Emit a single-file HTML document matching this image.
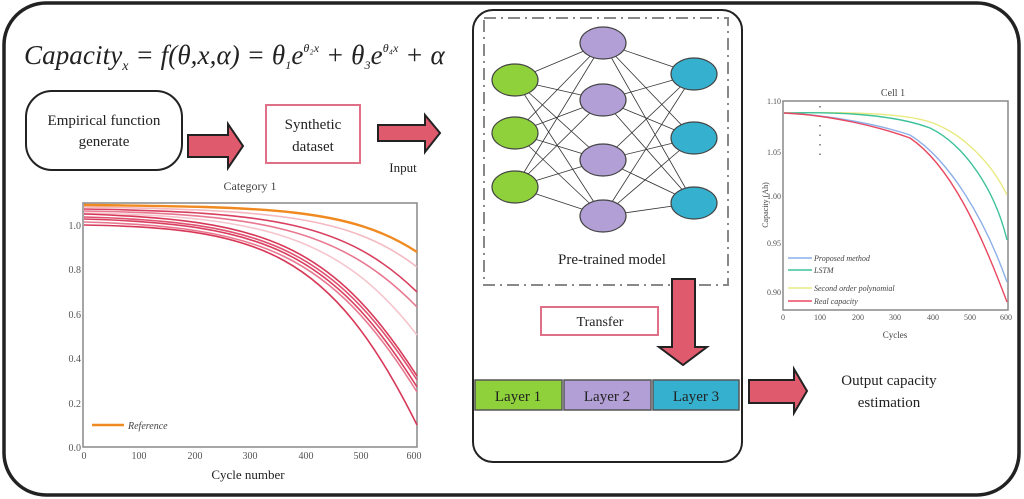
<!DOCTYPE html>
<html><head><meta charset="utf-8"><style>
html,body{margin:0;padding:0;background:#fff;}
svg{display:block;font-family:"Liberation Serif",serif;}
</style></head><body>
<svg width="1024" height="499" viewBox="0 0 1024 499" xmlns="http://www.w3.org/2000/svg">
<rect x="4" y="3" width="1015" height="492" rx="42" fill="#fff" stroke="#222" stroke-width="3.5"/>
<!-- formula -->
<text x="24" y="64" font-size="27" font-style="italic" fill="#222" letter-spacing="0.1">Capacity<tspan font-size="14" dy="6">x</tspan><tspan dy="-6"> = f(θ,x,α) = θ</tspan><tspan font-size="12" dy="5">1</tspan><tspan dy="-5">e</tspan><tspan font-size="12" dy="-12">θ₂x</tspan><tspan dy="12"> + θ</tspan><tspan font-size="12" dy="5">3</tspan><tspan dy="-5">e</tspan><tspan font-size="12" dy="-12">θ₄x</tspan><tspan dy="12"> + α</tspan></text>
<!-- empirical box -->
<rect x="26" y="91" width="156" height="79" rx="26" fill="#fff" stroke="#222" stroke-width="2"/>
<text x="104" y="125" font-size="15" text-anchor="middle" fill="#222">Empirical function</text>
<text x="104" y="146" font-size="15" text-anchor="middle" fill="#222">generate</text>
<!-- arrows -->
<path d="M188,135 H228 V124 L243,146 L228,168 V157 H188 Z" fill="#e05a6e" stroke="#222" stroke-width="2"/>
<rect x="266" y="105" width="94" height="58" fill="#fff" stroke="#e07088" stroke-width="2"/>
<text x="313" y="129" font-size="15" text-anchor="middle" fill="#222">Synthetic</text>
<text x="313" y="151" font-size="15" text-anchor="middle" fill="#222">dataset</text>
<path d="M378,125 H425 V115 L440,133 L425,152 V141 H378 Z" fill="#e05a6e" stroke="#222" stroke-width="2"/>
<text x="403" y="172" font-size="13" text-anchor="middle" fill="#222">Input</text>
<!-- left chart -->
<text x="250" y="190" font-size="12" text-anchor="middle" fill="#444">Category 1</text>
<rect x="83" y="203" width="334" height="244" fill="#fff" stroke="#888" stroke-width="1.5"/>
<g font-size="10" fill="#555" text-anchor="end">
<text x="81" y="229">1.0</text><text x="81" y="273">0.8</text><text x="81" y="318">0.6</text><text x="81" y="362">0.4</text><text x="81" y="407">0.2</text><text x="81" y="451">0.0</text>
</g>
<g font-size="10" fill="#555" text-anchor="middle">
<text x="84" y="459">0</text><text x="139" y="459">100</text><text x="195" y="459">200</text><text x="250" y="459">300</text><text x="306" y="459">400</text><text x="361" y="459">500</text><text x="414" y="459">600</text>
</g>
<text x="248" y="479" font-size="13" text-anchor="middle" fill="#222">Cycle number</text>
<g fill="none" stroke-width="1.6">
<path d="M84,207 C270,210 350,215 417,267" stroke="#f4b8c0"/>
<path d="M84,209 C270,212 345,222 417,292" stroke="#d94060"/>
<path d="M84,211 C260,214 340,228 417,307" stroke="#e87890"/>
<path d="M84,213 C260,216 340,235 417,335" stroke="#f6c4cc"/>
<path d="M84,214 C260,220 330,240 417,376" stroke="#d83858"/>
<path d="M84,217 C260,222 330,245 417,380" stroke="#e05070"/>
<path d="M84,219 C260,224 330,248 417,387" stroke="#d94060"/>
<path d="M84,222 C260,227 330,252 417,392" stroke="#e87890"/>
<path d="M84,225 C260,228 330,250 417,425" stroke="#d83858"/>
<path d="M84,205 C270,207 350,208 417,252" stroke="#f08a20" stroke-width="2.4"/>
</g>
<line x1="92" y1="425" x2="124" y2="425" stroke="#f08a20" stroke-width="2.4"/>
<text x="128" y="429" font-size="10" font-style="italic" fill="#444">Reference</text>
<!-- middle box -->
<rect x="473" y="10" width="269" height="452" rx="20" fill="#fff" stroke="#222" stroke-width="2"/>
<rect x="484" y="18" width="244" height="267" fill="none" stroke="#888" stroke-width="2" stroke-dasharray="12,5,2,5"/>
<g stroke="#333" stroke-width="0.8">
<line x1="515" y1="80" x2="603" y2="43"/><line x1="515" y1="80" x2="603" y2="100"/><line x1="515" y1="80" x2="603" y2="160"/><line x1="515" y1="80" x2="603" y2="216"/>
<line x1="515" y1="133" x2="603" y2="43"/><line x1="515" y1="133" x2="603" y2="100"/><line x1="515" y1="133" x2="603" y2="160"/><line x1="515" y1="133" x2="603" y2="216"/>
<line x1="515" y1="187" x2="603" y2="43"/><line x1="515" y1="187" x2="603" y2="100"/><line x1="515" y1="187" x2="603" y2="160"/><line x1="515" y1="187" x2="603" y2="216"/>
<line x1="603" y1="43" x2="694" y2="74"/><line x1="603" y1="43" x2="694" y2="138"/><line x1="603" y1="43" x2="694" y2="203"/>
<line x1="603" y1="100" x2="694" y2="74"/><line x1="603" y1="100" x2="694" y2="138"/><line x1="603" y1="100" x2="694" y2="203"/>
<line x1="603" y1="160" x2="694" y2="74"/><line x1="603" y1="160" x2="694" y2="138"/><line x1="603" y1="160" x2="694" y2="203"/>
<line x1="603" y1="216" x2="694" y2="74"/><line x1="603" y1="216" x2="694" y2="138"/><line x1="603" y1="216" x2="694" y2="203"/>
</g>
<g stroke="#444" stroke-width="1.2">
<ellipse cx="515" cy="80" rx="23" ry="16" fill="#8ed13a"/><ellipse cx="515" cy="133" rx="23" ry="16" fill="#8ed13a"/><ellipse cx="515" cy="187" rx="23" ry="16" fill="#8ed13a"/>
<ellipse cx="603" cy="43" rx="23" ry="16" fill="#b29fd6"/><ellipse cx="603" cy="100" rx="23" ry="16" fill="#b29fd6"/><ellipse cx="603" cy="160" rx="23" ry="16" fill="#b29fd6"/><ellipse cx="603" cy="216" rx="23" ry="16" fill="#b29fd6"/>
<ellipse cx="694" cy="74" rx="23" ry="16" fill="#36b0cf"/><ellipse cx="694" cy="138" rx="23" ry="16" fill="#36b0cf"/><ellipse cx="694" cy="203" rx="23" ry="16" fill="#36b0cf"/>
</g>
<text x="612" y="264" font-size="15" text-anchor="middle" fill="#222">Pre-trained model</text>
<path d="M672,279 H695 V347 H707 L683,365 L659,347 H672 Z" fill="#e05a6e" stroke="#222" stroke-width="2"/>
<rect x="541" y="307" width="117" height="28" fill="#fff" stroke="#e07088" stroke-width="2"/>
<text x="600" y="326" font-size="14" text-anchor="middle" fill="#222">Transfer</text>
<rect x="475" y="380" width="87" height="30" fill="#8ed13a" stroke="#555" stroke-width="1.5"/>
<rect x="564" y="380" width="87" height="30" fill="#b29fd6" stroke="#555" stroke-width="1.5"/>
<rect x="653" y="380" width="86" height="30" fill="#36b0cf" stroke="#555" stroke-width="1.5"/>
<text x="518" y="401" font-size="15" text-anchor="middle" fill="#222">Layer 1</text>
<text x="607" y="401" font-size="15" text-anchor="middle" fill="#222">Layer 2</text>
<text x="696" y="401" font-size="15" text-anchor="middle" fill="#222">Layer 3</text>
<!-- output arrow -->
<path d="M749,380 H794 V369 L807,391 L794,413 V403 H749 Z" fill="#e05a6e" stroke="#222" stroke-width="2"/>
<text x="889" y="385" font-size="15" text-anchor="middle" fill="#222">Output capacity</text>
<text x="889" y="407" font-size="15" text-anchor="middle" fill="#222">estimation</text>
<!-- right chart -->
<text x="893" y="96" font-size="10" text-anchor="middle" fill="#444">Cell 1</text>
<rect x="783" y="101" width="225" height="209" fill="#fff" stroke="#888" stroke-width="1.5"/>
<g font-size="8" fill="#555" text-anchor="end">
<text x="781" y="104">1.10</text><text x="781" y="155">1.05</text><text x="781" y="199">1.00</text><text x="781" y="246">0.95</text><text x="781" y="295">0.90</text>
</g>
<g font-size="8" fill="#555" text-anchor="middle">
<text x="783" y="320">0</text><text x="820" y="320">100</text><text x="858" y="320">200</text><text x="895" y="320">300</text><text x="933" y="320">400</text><text x="970" y="320">500</text><text x="1006" y="320">600</text>
</g>
<text x="895" y="338" font-size="9" text-anchor="middle" fill="#444">Cycles</text>
<text x="768" y="205" font-size="8" text-anchor="middle" fill="#444" transform="rotate(-90 768 205)">Capacity (Ah)</text>
<line x1="820" y1="106" x2="820" y2="163" stroke="#555" stroke-width="1.3" stroke-dasharray="1.5,8"/>
<g fill="none" stroke-width="1.4">
<path d="M784,113 C830,112 900,112 930,122 C960,132 990,160 1007,195" stroke="#e8ea80"/>
<path d="M784,113 C830,112 890,113 930,128 C965,145 995,190 1007,240" stroke="#3ec29a"/>
<path d="M784,113 C830,115 880,125 910,135 C950,160 985,220 1007,282" stroke="#8cb0e8"/>
<path d="M784,113 C830,115 880,127 910,138 C950,165 980,230 1007,302" stroke="#e84860"/>
</g>
<g font-size="8" font-style="italic" fill="#444">
<line x1="788" y1="258" x2="812" y2="258" stroke="#8cb0e8" stroke-width="1.4"/><text x="814" y="261">Proposed method</text>
<line x1="788" y1="270" x2="812" y2="270" stroke="#3ec29a" stroke-width="1.4"/><text x="814" y="273">LSTM</text>
<line x1="788" y1="288" x2="812" y2="288" stroke="#e8ea80" stroke-width="1.4"/><text x="814" y="291">Second order polynomial</text>
<line x1="788" y1="301" x2="812" y2="301" stroke="#e84860" stroke-width="1.4"/><text x="814" y="304">Real capacity</text>
</g>
</svg>
</body></html>
